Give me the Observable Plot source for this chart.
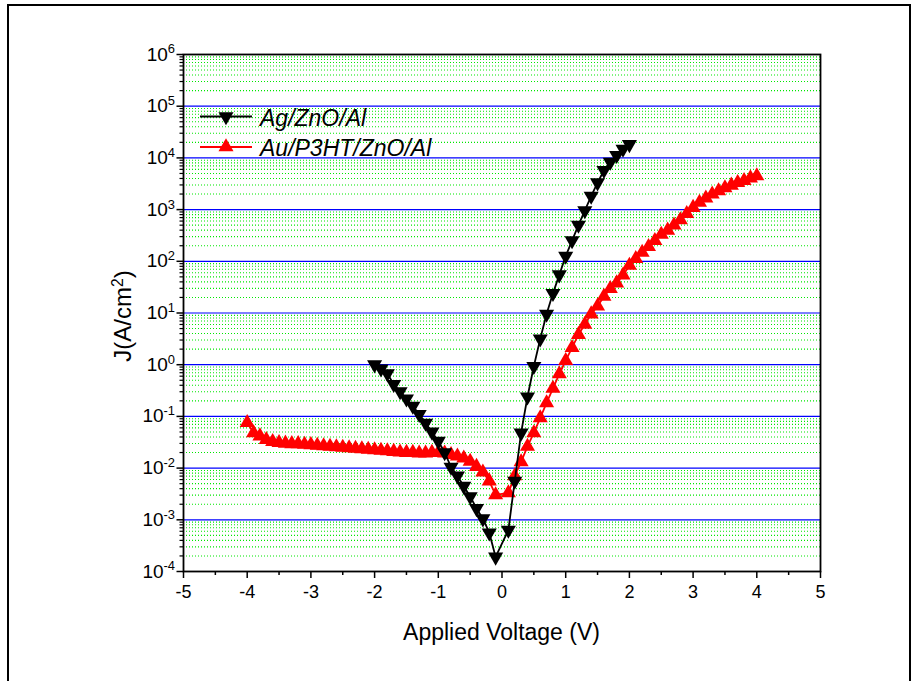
<!DOCTYPE html>
<html><head><meta charset="utf-8">
<script src="https://cdn.jsdelivr.net/npm/d3@7"></script>
<script src="https://cdn.jsdelivr.net/npm/@observablehq/plot@0.6"></script>
<style>
body{margin:0;background:#fff;}
#chart{position:relative;width:918px;height:681px;overflow:hidden;}
</style>
</head><body><div id="chart"></div>
<script>
// Ag/ZnO/Al (black, down triangles)
const voltBlack = [-2.0,-1.9,-1.8,-1.7,-1.6,-1.5,-1.4,-1.3,-1.2,-1.1,-1.0,-0.9,-0.8,-0.7,-0.6,-0.5,-0.4,-0.3,-0.2,-0.1,
  0.1,0.2,0.3,0.4,0.5,0.6,0.7,0.8,0.9,1.0,1.1,1.2,1.3,1.4,1.5,1.6,1.7,1.8,1.9,2.0];
const jBlack = [1.0,0.832,0.676,0.417,0.302,0.219,0.158,0.110,0.0741,0.0501,0.0331,0.0200,0.0105,0.00708,0.00447,0.00282,0.00166,0.00105,0.000562,0.000191,
  0.000631,0.00562,0.0479,0.240,0.933,3.16,9.55,24.0,55.0,126,251,501,955,1820,3311,5754,8318,11220,14791,18197];

// Au/P3HT/ZnO/Al (red, up triangles)
const voltRed = [-4.0,-3.9,-3.8,-3.7,-3.6,-3.5,-3.4,-3.3,-3.2,-3.1,-3.0,-2.9,-2.8,-2.7,-2.6,-2.5,-2.4,-2.3,-2.2,-2.1,
  -2.0,-1.9,-1.8,-1.7,-1.6,-1.5,-1.4,-1.3,-1.2,-1.1,-1.0,-0.9,-0.8,-0.7,-0.6,-0.5,-0.4,-0.3,-0.2,-0.1,
  0.1,0.2,0.3,0.4,0.5,0.6,0.7,0.8,0.9,1.0,1.1,1.2,1.3,1.4,1.5,1.6,1.7,1.8,1.9,2.0,
  2.1,2.2,2.3,2.4,2.5,2.6,2.7,2.8,2.9,3.0,3.1,3.2,3.3,3.4,3.5,3.6,3.7,3.8,3.9,4.0];
const jRed = [0.0759,0.0479,0.0417,0.0355,0.0324,0.0309,0.0302,0.0295,0.0295,0.0288,0.0282,0.0275,0.0269,0.0263,0.0257,0.0251,0.0245,0.0240,0.0234,0.0229,
  0.0224,0.0219,0.0214,0.0209,0.0204,0.0200,0.0200,0.0195,0.0195,0.0200,0.0200,0.0195,0.0182,0.0170,0.0155,0.0135,0.0107,0.00832,0.00562,0.00302,
  0.00331,0.00708,0.0132,0.0263,0.0479,0.0933,0.182,0.347,0.661,1.20,2.14,3.80,6.03,9.55,13.5,20.9,29.5,38.0,53.7,83.2,
  112,148,191,251,331,398,501,631,832,1096,1380,1660,1995,2291,2630,2951,3311,3631,4074,4467];

const seriesNames = ["Ag/ZnO/Al", "Au/P3HT/ZnO/Al"];
const xTicks = [-5,-4,-3,-2,-1,0,1,2,3,4,5];
const xMinorTicks = [-4.5,-3.5,-2.5,-1.5,-0.5,0.5,1.5,2.5,3.5,4.5];
const yExponents = [-4,-3,-2,-1,0,1,2,3,4,5,6];
const xTitle = "Applied Voltage (V)";

const majorTicks = yExponents.map(e => Math.pow(10, e));
const minorTicks = [];
for (let e = -4; e < 6; e++) for (let m = 2; m <= 9; m++) minorTicks.push(m * Math.pow(10, e));

const blackData = voltBlack.map((v, i) => ({v, j: jBlack[i]}));
const redData = voltRed.map((v, i) => ({v, j: jRed[i]}));

const FONT = "'Liberation Sans', Arial, Helvetica, sans-serif";
const R = 5.6;

const svg = Plot.plot({
  width: 918, height: 681,
  marginLeft: 183, marginRight: 98, marginTop: 54, marginBottom: 110,
  style: {fontFamily: FONT, fontSize: "18px", color: "black", background: "white", overflow: "visible"},
  x: {domain: [-5, 5]},
  y: {type: "log", domain: [1e-4, 1e6]},
  marks: [
    Plot.ruleY(minorTicks, {stroke: "#00e800", strokeWidth: 1.1, strokeDasharray: "1,2"}),
    Plot.ruleY(majorTicks.slice(1, -1), {stroke: "#0000ff", strokeWidth: 1.2}),
    Plot.axisX({ticks: xMinorTicks, tickSize: 4, tickFormat: () => "", label: null, strokeWidth: 1.5}),
    Plot.axisX({ticks: xTicks, tickSize: 7, tickPadding: 7, tickFormat: d => String(d), label: null, strokeWidth: 1.5, fontSize: 18}),
    Plot.axisY({ticks: minorTicks, tickSize: 3.5, tickFormat: () => "", label: null, strokeWidth: 1.2}),
    Plot.axisY({ticks: majorTicks, tickSize: 6.5, tickPadding: 2, tickFormat: d => "10^" + Math.round(Math.log10(d)), label: null, strokeWidth: 1.5, fontSize: 19}),
    Plot.line(redData, {x: "v", y: "j", stroke: "red", strokeWidth: 1.8}),
    Plot.dot(redData, {x: "v", y: "j", symbol: "triangle", r: R, fill: "red", stroke: "none"}),
    Plot.line(blackData, {x: "v", y: "j", stroke: "black", strokeWidth: 1.8}),
    Plot.dot(blackData, {x: "v", y: "j", symbol: "triangle", r: R, rotate: 180, fill: "black", stroke: "none"}),
    Plot.frame({stroke: "black", strokeWidth: 1.8})
  ]
});

const s = d3.select(svg);
// superscript tick labels
s.selectAll('[aria-label="y-axis tick label"] text').each(function () {
  const t = this.textContent;
  if (!t.includes("^")) return;
  const e = t.split("^")[1];
  const sel = d3.select(this);
  sel.text(null);
  sel.append("tspan").text("10");
  sel.append("tspan").attr("dy", "-0.55em").attr("font-size", "0.68em").text(e);
});

// axis titles
s.append("text").attr("x", 501.5).attr("y", 640).attr("text-anchor", "middle")
  .attr("font-family", FONT).attr("font-size", 23).attr("fill", "black").text(xTitle);
const yt = s.append("text").attr("transform", "translate(131,316) rotate(-90)").attr("text-anchor", "middle")
  .attr("font-family", FONT).attr("font-size", 24).attr("fill", "black");
yt.append("tspan").text("J(A/cm");
yt.append("tspan").attr("dy", "-0.5em").attr("font-size", "0.65em").text("2");
yt.append("tspan").attr("dy", "0.32em").text(")");

// legend
const legendColors = ["black", "red"];
const legendRot = [180, 0];
const legendY = [116.5, 147];
seriesNames.forEach((name, i) => {
  const g = s.append("g");
  g.append("line").attr("x1", 200).attr("x2", 252).attr("y1", legendY[i]).attr("y2", legendY[i])
    .attr("stroke", legendColors[i]).attr("stroke-width", 2);
  g.append("path").attr("d", d3.symbol(d3.symbolTriangle, Math.PI * R * R)())
    .attr("transform", `translate(226,${legendY[i]}) rotate(${legendRot[i]})`).attr("fill", legendColors[i]);
  g.append("text").attr("x", 260).attr("y", legendY[i] + 9).attr("text-anchor", "start").attr("font-family", FONT)
    .attr("font-size", 23).attr("font-style", "italic").attr("fill", "black").text(name);
});

// outer border
s.append("rect").attr("x", 8).attr("y", 5).attr("width", 902).attr("height", 700)
  .attr("fill", "none").attr("stroke", "black").attr("stroke-width", 2);

document.getElementById("chart").appendChild(svg);
</script>
</body></html>
